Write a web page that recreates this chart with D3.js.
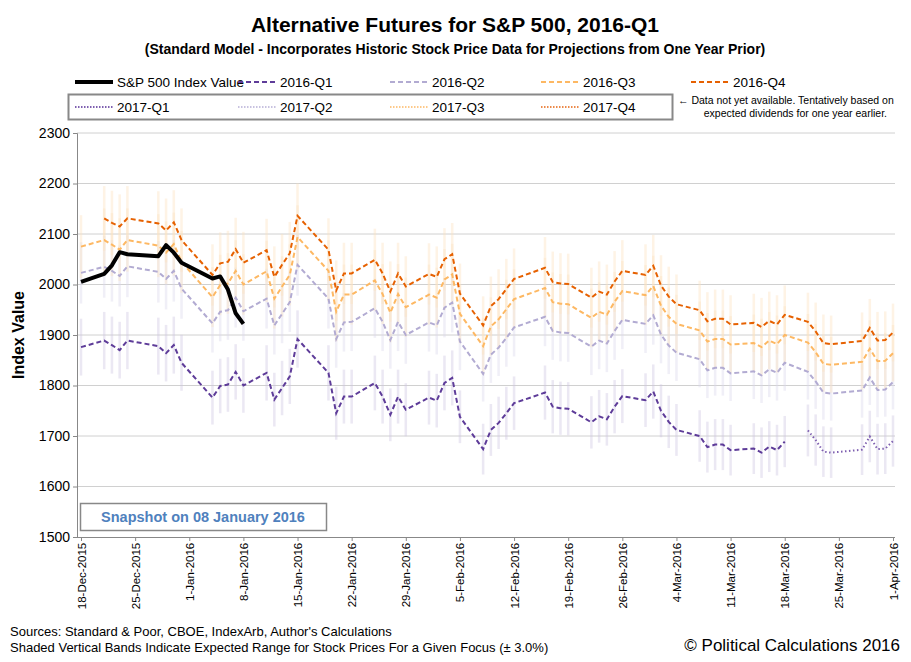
<!DOCTYPE html>
<html><head><meta charset="utf-8">
<script src="https://cdn.jsdelivr.net/npm/d3@7"></script>
<style>
body{margin:0;background:#fff;font-family:"Liberation Sans",Arial,sans-serif;}
.narrow{font-family:"Liberation Sans Narrow","Arial Narrow","Liberation Sans",sans-serif;}
</style></head>
<body><svg id="chart" width="911" height="662"></svg>
<script>
const dates = ['2015-12-18','2015-12-21','2015-12-22','2015-12-23','2015-12-24','2015-12-28','2015-12-29','2015-12-30','2015-12-31',
  '2016-01-04','2016-01-05','2016-01-06','2016-01-07','2016-01-08','2016-01-11','2016-01-12','2016-01-13','2016-01-14','2016-01-15',
  '2016-01-19','2016-01-20','2016-01-21','2016-01-22','2016-01-25','2016-01-26','2016-01-27','2016-01-28','2016-01-29',
  '2016-02-01','2016-02-02','2016-02-03','2016-02-04','2016-02-05','2016-02-08','2016-02-09','2016-02-10','2016-02-11','2016-02-12',
  '2016-02-16','2016-02-17','2016-02-18','2016-02-19','2016-02-22','2016-02-23','2016-02-24','2016-02-25','2016-02-26',
  '2016-02-29','2016-03-01','2016-03-02','2016-03-03','2016-03-04','2016-03-07','2016-03-08','2016-03-09','2016-03-10','2016-03-11',
  '2016-03-14','2016-03-15','2016-03-16','2016-03-17','2016-03-18','2016-03-21','2016-03-22','2016-03-23','2016-03-24',
  '2016-03-28','2016-03-29','2016-03-30','2016-03-31','2016-04-01'];

const spx = [2005,2021,2038,2064,2060,2056,2078,2063,2043,2012,2016,1990,1943,1922];

const q1_2016 = [1876,1889,1880,1870,1889,1878,1864,1880,1845,1776,1799,1802,1827,1800,1825,1772,1795,1818,1892,1825,1745,1778,1778,1805,1778,1742,1778,1752,1776,1770,1805,1815,1738,1674,1712,1726,1745,1765,1786,1758,1755,1754,1727,1739,1733,1758,1779,1771,1788,1750,1728,1712,1700,1678,1683,1683,1672,1675,1667,1679,1672,1689];
const q1_2017 = [1711,1692,1669,1667,1673,1699,1674,1675,1690];
const q2 = [2023,2035,2027,2017,2036,2025,2011,2027,1992,1923,1946,1949,1974,1947,1972,1919,1942,1965,2039,1972,1892,1925,1926,1953,1926,1890,1926,1900,1925,1919,1954,1964,1887,1823,1861,1875,1894,1915,1936,1908,1905,1904,1877,1889,1883,1908,1930,1922,1939,1901,1879,1865,1852,1830,1835,1835,1824,1828,1820,1832,1825,1845,1827,1808,1786,1784,1790,1816,1791,1792,1807];
const q3 = [2075,2088,2079,2069,2088,2077,2063,2080,2045,1975,1999,2002,2027,2000,2026,1972,1996,2019,2094,2027,1946,1980,1980,2008,1981,1944,1981,1955,1980,1974,2010,2020,1942,1878,1917,1931,1951,1971,1993,1965,1962,1961,1934,1946,1940,1966,1987,1979,1997,1958,1936,1922,1909,1887,1892,1892,1881,1884,1876,1889,1882,1900,1885,1866,1843,1841,1847,1873,1848,1849,1864];
const q4 = [null,2131,2122,2115,2131,2121,2107,2123,2088,2019,2042,2045,2070,2043,2068,2015,2039,2062,2136,2069,1988,2022,2022,2049,2022,1986,2022,1996,2021,2015,2050,2060,1982,1919,1957,1971,1991,2011,2033,2005,2002,2001,1974,1986,1980,2006,2027,2019,2037,1998,1976,1961,1949,1927,1932,1932,1921,1924,1916,1928,1921,1940,1926,1907,1884,1882,1888,1914,1889,1890,1905];

const yTicks = [1500,1600,1700,1800,1900,2000,2100,2200,2300];
const band = 0.03;

const parse = d3.timeParse('%Y-%m-%d');
const days = dates.map(parse);

const svg = d3.select('#chart');
const pL = 77, pR = 895, pT = 133, pB = 537;
const x = d3.scaleTime().domain([parse('2015-12-18'), parse('2016-04-01')]).range([81, 893]);
const y = d3.scaleLinear().domain([1500, 2300]).range([pB, pT]);

// gridlines
svg.append('g').selectAll('line').data(yTicks.slice(1)).join('line')
  .attr('x1', pL).attr('x2', pR).attr('y1', d => y(d)).attr('y2', d => y(d))
  .attr('stroke', '#d0d0d0').attr('stroke-width', 1);

function series(vals, offset) {
  return vals.map((v, i) => ({d: days[i + offset], v})).filter(p => p.v != null);
}
const all = [
  {pts: series(q1_2016, 0), color: '#5e3c99', band: '#cfc6e3', dash: '5,3'},
  {pts: series(q1_2017, 62), color: '#7e5fb0', band: '#cfc6e3', dash: '1.5,2.5'},
  {pts: series(q2, 0), color: '#b2abd2', band: '#dcd8ec', dash: '5,3'},
  {pts: series(q3, 0), color: '#fdb863', band: '#fde3c0', dash: '5,3'},
  {pts: series(q4, 0), color: '#e66101', band: '#fde3c0', dash: '5,3'},
];

// range bands
all.forEach(s => {
  svg.append('g').selectAll('line').data(s.pts).join('line')
    .attr('x1', p => x(p.d)).attr('x2', p => x(p.d))
    .attr('y1', p => y(p.v * (1 + band))).attr('y2', p => y(p.v * (1 - band)))
    .attr('stroke', s.band).attr('stroke-width', 2.5).attr('opacity', 0.4);
});

const line = d3.line().x(p => x(p.d)).y(p => y(p.v));
all.slice().reverse().forEach(s => {
  svg.append('path').datum(s.pts).attr('d', line).attr('fill', 'none')
    .attr('stroke', s.color).attr('stroke-width', 2).attr('stroke-dasharray', s.dash);
});
svg.append('path').datum(series(spx, 0)).attr('d', line).attr('fill', 'none')
  .attr('stroke', '#000').attr('stroke-width', 4).attr('stroke-linejoin', 'round');

// axes
const yAxis = svg.append('g').attr('transform', `translate(${pL},0)`)
  .call(d3.axisLeft(y).tickValues(yTicks).tickSize(4).tickFormat(d3.format('d')));
yAxis.select('.domain').attr('stroke', '#888');
yAxis.selectAll('.tick line').attr('stroke', '#888');
yAxis.selectAll('text').attr('font-size', 14).attr('fill', '#000').attr('font-family', 'Liberation Sans, Arial');

const xTicks = d3.timeDay.range(parse('2015-12-18'), parse('2016-04-02'), 7);
const xAxis = svg.append('g').attr('transform', `translate(0,${pB})`)
  .call(d3.axisBottom(x).tickValues(xTicks).tickSize(4).tickFormat(d3.timeFormat('%-d-%b-%Y')));
xAxis.select('.domain').attr('stroke', '#888').attr('d', `M${pL},0.5H${pR}`);
xAxis.selectAll('.tick line').attr('stroke', '#888');
xAxis.selectAll('text').attr('font-size', 11.5).attr('fill', '#000').attr('font-family', 'Liberation Sans, Arial')
  .attr('transform', 'rotate(-90)').attr('text-anchor', 'end').attr('dx', '-0.5em').attr('dy', '0.35em').attr('x', 0).attr('y', 0);

svg.append('text').attr('transform', `translate(24,${(pT + pB) / 2}) rotate(-90)`)
  .attr('text-anchor', 'middle').attr('font-size', 16).attr('font-weight', 'bold').text('Index Value');

// titles
svg.append('text').attr('x', 455).attr('y', 32).attr('text-anchor', 'middle')
  .attr('font-size', 21).attr('font-weight', 'bold').text('Alternative Futures for S&P 500, 2016-Q1');
svg.append('text').attr('x', 455).attr('y', 54).attr('text-anchor', 'middle')
  .attr('font-size', 14).attr('font-weight', 'bold')
  .text('(Standard Model - Incorporates Historic Stock Price Data for Projections from One Year Prior)');

// legend
const legend1 = [
  {name: 'S&P 500 Index Value', color: '#000', dash: null, w: 4, x: 117},
  {name: '2016-Q1', color: '#5e3c99', dash: '5,3', w: 2, x: 280},
  {name: '2016-Q2', color: '#b2abd2', dash: '5,3', w: 2, x: 432},
  {name: '2016-Q3', color: '#fdb863', dash: '5,3', w: 2, x: 583},
  {name: '2016-Q4', color: '#e66101', dash: '5,3', w: 2, x: 733},
];
const legend2 = [
  {name: '2017-Q1', color: '#7e5fb0', x: 117},
  {name: '2017-Q2', color: '#c8c2e0', x: 280},
  {name: '2017-Q3', color: '#fdc98a', x: 432},
  {name: '2017-Q4', color: '#ec8a4a', x: 583},
];
svg.append('rect').attr('x', 68.5).attr('y', 94.5).attr('width', 604).attr('height', 25)
  .attr('fill', '#fff').attr('stroke', '#888').attr('stroke-width', 2);
legend1.forEach(l => {
  svg.append('line').attr('x1', l.x - 42).attr('x2', l.x - 4).attr('y1', 82).attr('y2', 82)
    .attr('stroke', l.color).attr('stroke-width', l.w).attr('stroke-dasharray', l.dash);
  svg.append('text').attr('class', 'narrow').attr('x', l.x).attr('y', 86.5).attr('font-size', 13.5).text(l.name);
});
legend2.forEach(l => {
  svg.append('line').attr('x1', l.x - 42).attr('x2', l.x - 4).attr('y1', 107).attr('y2', 107)
    .attr('stroke', l.color).attr('stroke-width', 2).attr('stroke-dasharray', '1.5,1.5');
  svg.append('text').attr('class', 'narrow').attr('x', l.x).attr('y', 111.5).attr('font-size', 13.5).text(l.name);
});
svg.append('text').attr('class', 'narrow').attr('x', 678).attr('y', 104).attr('font-size', 10.5).text('\u2190 Data not yet available. Tentatively based on');
svg.append('text').attr('class', 'narrow').attr('x', 887).attr('y', 117).attr('text-anchor', 'end').attr('font-size', 10.5).text('expected dividends for one year earlier.');

// snapshot box
svg.append('rect').attr('x', 80.5).attr('y', 503.5).attr('width', 246).attr('height', 27)
  .attr('fill', '#fff').attr('stroke', '#888').attr('stroke-width', 1.5);
svg.append('text').attr('x', 203).attr('y', 522).attr('text-anchor', 'middle')
  .attr('font-size', 14.5).attr('font-weight', 'bold').attr('fill', '#4f81bd').text('Snapshot on 08 January 2016');

// footer
svg.append('text').attr('class', 'narrow').attr('x', 10).attr('y', 636).attr('font-size', 13).text('Sources: Standard & Poor, CBOE, IndexArb, Author\'s Calculations');
svg.append('text').attr('class', 'narrow').attr('x', 10).attr('y', 652).attr('font-size', 13).text('Shaded Vertical Bands Indicate Expected Range for Stock Prices For a Given Focus (\u00b1 3.0%)');
svg.append('text').attr('x', 900).attr('y', 651).attr('text-anchor', 'end').attr('font-size', 17).text('\u00a9 Political Calculations 2016');
</script></body></html>
